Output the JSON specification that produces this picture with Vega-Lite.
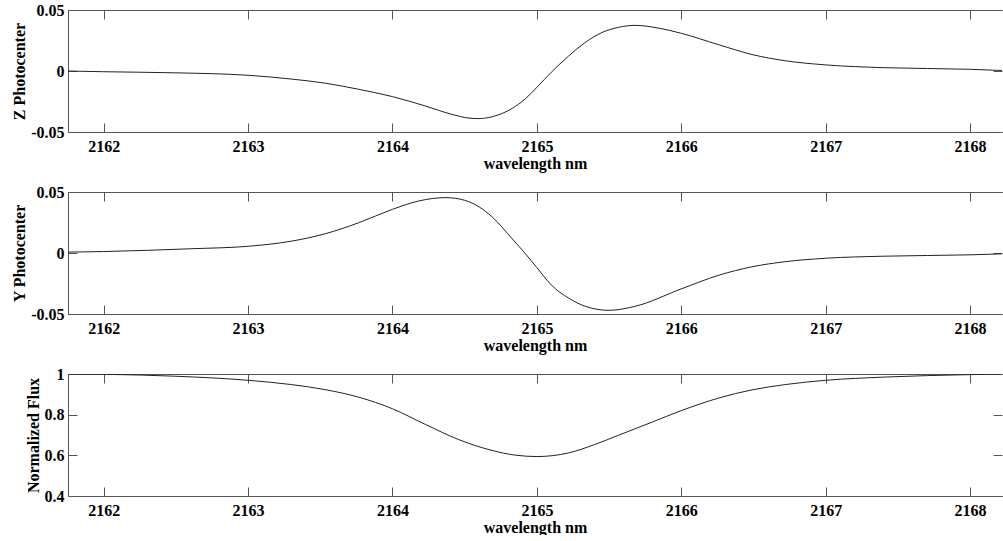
{
  "$schema": "https://vega.github.io/schema/vega-lite/v6.json",
  "padding": {"left": 11, "top": 2, "right": 0, "bottom": 0},
  "spacing": 13,
  "config": {
    "view": {"stroke": null},
    "font": "Liberation Serif",
    "axis": {
      "labelFont": "Liberation Serif", "labelFontSize": 16, "labelFontWeight": "bold", "labelColor": "#000",
      "titleFont": "Liberation Serif", "titleFontSize": 16, "titleFontWeight": "bold", "titleColor": "#000",
      "domain": true, "domainColor": "#555", "domainWidth": 1, "grid": false,
      "tickColor": "#555", "tickSize": -9, "tickWidth": 1, "labelFlush": false, "labelOverlap": false
    }
  },
  "datasets": {
    "z": [
      {"w": 2161.75, "v": 0}, {"w": 2162, "v": -0.0006}, {"w": 2162.5, "v": -0.0015}, {"w": 2163, "v": -0.0035},
      {"w": 2163.3, "v": -0.0066}, {"w": 2163.535, "v": -0.010}, {"w": 2163.766, "v": -0.015}, {"w": 2164.0, "v": -0.021},
      {"w": 2164.228, "v": -0.0287}, {"w": 2164.41, "v": -0.0355}, {"w": 2164.53, "v": -0.0386}, {"w": 2164.6, "v": -0.039},
      {"w": 2164.69, "v": -0.0375}, {"w": 2164.83, "v": -0.0306}, {"w": 2164.92, "v": -0.0228}, {"w": 2165.0, "v": -0.0134},
      {"w": 2165.1, "v": -0.0010}, {"w": 2165.22, "v": 0.0123}, {"w": 2165.336, "v": 0.0235}, {"w": 2165.45, "v": 0.0315},
      {"w": 2165.566, "v": 0.0358}, {"w": 2165.68, "v": 0.0374}, {"w": 2165.84, "v": 0.0352}, {"w": 2166.0, "v": 0.0309},
      {"w": 2166.26, "v": 0.0215}, {"w": 2166.49, "v": 0.0135}, {"w": 2166.72, "v": 0.0084}, {"w": 2167.0, "v": 0.0050},
      {"w": 2167.41, "v": 0.0027}, {"w": 2168.0, "v": 0.0014}, {"w": 2168.22, "v": 0.0004}
    ],
    "y": [
      {"w": 2161.75, "v": 0.0007}, {"w": 2162, "v": 0.0012}, {"w": 2162.61, "v": 0.0035}, {"w": 2163, "v": 0.0055},
      {"w": 2163.3, "v": 0.0097}, {"w": 2163.535, "v": 0.0158}, {"w": 2163.766, "v": 0.0248}, {"w": 2164.0, "v": 0.0358},
      {"w": 2164.18, "v": 0.0426}, {"w": 2164.37, "v": 0.0454}, {"w": 2164.5, "v": 0.0432}, {"w": 2164.6, "v": 0.0378},
      {"w": 2164.69, "v": 0.0296}, {"w": 2164.83, "v": 0.0115}, {"w": 2164.92, "v": -0.0005}, {"w": 2165.0, "v": -0.0120},
      {"w": 2165.1, "v": -0.0262}, {"w": 2165.22, "v": -0.0370}, {"w": 2165.336, "v": -0.0437}, {"w": 2165.5, "v": -0.0470},
      {"w": 2165.68, "v": -0.0437}, {"w": 2166.0, "v": -0.0294}, {"w": 2166.26, "v": -0.0182}, {"w": 2166.49, "v": -0.0113},
      {"w": 2166.72, "v": -0.0071}, {"w": 2167.0, "v": -0.0043}, {"w": 2167.41, "v": -0.0026}, {"w": 2168.0, "v": -0.0015},
      {"w": 2168.22, "v": -0.0007}
    ],
    "f": [
      {"w": 2161.75, "v": 1.0}, {"w": 2162, "v": 0.9985}, {"w": 2162.5, "v": 0.989}, {"w": 2163, "v": 0.969},
      {"w": 2163.3, "v": 0.948}, {"w": 2163.535, "v": 0.923}, {"w": 2163.766, "v": 0.886}, {"w": 2164.0, "v": 0.829},
      {"w": 2164.228, "v": 0.752}, {"w": 2164.46, "v": 0.677}, {"w": 2164.69, "v": 0.624}, {"w": 2164.85, "v": 0.601},
      {"w": 2165.0, "v": 0.594}, {"w": 2165.22, "v": 0.612}, {"w": 2165.4, "v": 0.653}, {"w": 2165.566, "v": 0.699},
      {"w": 2165.8, "v": 0.764}, {"w": 2166.0, "v": 0.82}, {"w": 2166.26, "v": 0.882}, {"w": 2166.49, "v": 0.922},
      {"w": 2166.72, "v": 0.948}, {"w": 2167.0, "v": 0.969}, {"w": 2167.41, "v": 0.985}, {"w": 2168.0, "v": 0.997},
      {"w": 2168.22, "v": 1.0}
    ]
  },
  "vconcat": [
    {
      "width": 934, "height": 122,
      "data": {"name": "z"},
      "layer": [
        {
          "mark": {"type": "line", "color": "#222", "strokeWidth": 1, "interpolate": "monotone", "clip": true},
          "encoding": {
            "x": {"field": "w", "type": "quantitative", "scale": {"domain": [2161.753, 2168.221], "nice": false, "zero": false},
                  "axis": {"orient": "bottom", "values": [2162, 2163, 2164, 2165, 2166, 2167, 2168], "format": "d", "title": "wavelength nm", "labelPadding": 15, "titlePadding": 1}},
            "y": {"field": "v", "type": "quantitative", "scale": {"domain": [-0.05, 0.05], "nice": false, "zero": false},
                  "axis": {"orient": "left", "values": [-0.05, 0, 0.05], "labelExpr": "'' + datum.value", "title": "Z Photocenter", "labelPadding": 13, "titlePadding": 3}}
          }
        },
        {
          "mark": {"type": "line", "strokeOpacity": 0},
          "encoding": {
            "x": {"field": "w", "type": "quantitative", "axis": {"orient": "top", "values": [2162, 2163, 2164, 2165, 2166, 2167, 2168], "labels": false, "title": null}},
            "y": {"field": "v", "type": "quantitative", "axis": {"orient": "right", "values": [-0.05, 0, 0.05], "labels": false, "title": null, "domain": false}}
          }
        }
      ],
      "resolve": {"axis": {"x": "independent", "y": "independent"}}
    },
    {
      "width": 934, "height": 122,
      "data": {"name": "y"},
      "layer": [
        {
          "mark": {"type": "line", "color": "#222", "strokeWidth": 1, "interpolate": "monotone", "clip": true},
          "encoding": {
            "x": {"field": "w", "type": "quantitative", "scale": {"domain": [2161.753, 2168.221], "nice": false, "zero": false},
                  "axis": {"orient": "bottom", "values": [2162, 2163, 2164, 2165, 2166, 2167, 2168], "format": "d", "title": "wavelength nm", "labelPadding": 15, "titlePadding": 1}},
            "y": {"field": "v", "type": "quantitative", "scale": {"domain": [-0.05, 0.05], "nice": false, "zero": false},
                  "axis": {"orient": "left", "values": [-0.05, 0, 0.05], "labelExpr": "'' + datum.value", "title": "Y Photocenter", "labelPadding": 13, "titlePadding": 3}}
          }
        },
        {
          "mark": {"type": "line", "strokeOpacity": 0},
          "encoding": {
            "x": {"field": "w", "type": "quantitative", "axis": {"orient": "top", "values": [2162, 2163, 2164, 2165, 2166, 2167, 2168], "labels": false, "title": null}},
            "y": {"field": "v", "type": "quantitative", "axis": {"orient": "right", "values": [-0.05, 0, 0.05], "labels": false, "title": null, "domain": false}}
          }
        }
      ],
      "resolve": {"axis": {"x": "independent", "y": "independent"}}
    },
    {
      "width": 934, "height": 122,
      "data": {"name": "f"},
      "layer": [
        {
          "mark": {"type": "line", "color": "#222", "strokeWidth": 1, "interpolate": "monotone", "clip": true},
          "encoding": {
            "x": {"field": "w", "type": "quantitative", "scale": {"domain": [2161.753, 2168.221], "nice": false, "zero": false},
                  "axis": {"orient": "bottom", "values": [2162, 2163, 2164, 2165, 2166, 2167, 2168], "format": "d", "title": "wavelength nm", "labelPadding": 15, "titlePadding": 1}},
            "y": {"field": "v", "type": "quantitative", "scale": {"domain": [0.4, 1], "nice": false, "zero": false},
                  "axis": {"orient": "left", "values": [0.4, 0.6, 0.8, 1], "labelExpr": "'' + datum.value", "title": "Normalized Flux", "labelPadding": 13, "titlePadding": 3}}
          }
        },
        {
          "mark": {"type": "line", "strokeOpacity": 0},
          "encoding": {
            "x": {"field": "w", "type": "quantitative", "axis": {"orient": "top", "values": [2162, 2163, 2164, 2165, 2166, 2167, 2168], "labels": false, "title": null}},
            "y": {"field": "v", "type": "quantitative", "axis": {"orient": "right", "values": [0.4, 0.6, 0.8, 1], "labels": false, "title": null, "domain": false}}
          }
        }
      ],
      "resolve": {"axis": {"x": "independent", "y": "independent"}}
    }
  ]
}
